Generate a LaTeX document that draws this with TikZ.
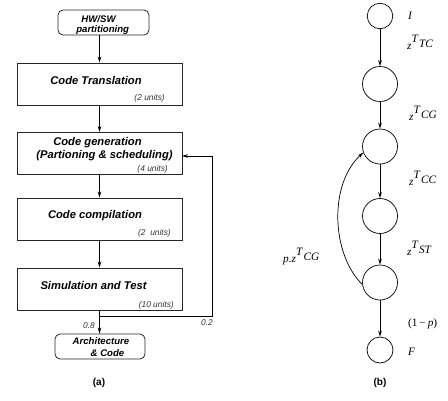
\documentclass[tikz,border=0pt]{standalone}
\usepackage{fontspec}
\setmainfont{Liberation Sans}
\newfontfamily\tms{Liberation Serif}
\usetikzlibrary{arrows.meta}
\newcommand\zexp[1]{\raisebox{6.3pt}{T}\hspace{1.2pt}\raisebox{1.7pt}{#1}}
\tikzset{
  box/.style={draw=black!85, line width=0.9pt, minimum width=165pt, minimum height=42pt, inner sep=0pt},
  rbox/.style={draw=black!85, rounded corners=5pt, line width=0.8pt, inner sep=0pt},
  txt/.style={inner sep=0pt, font=\fontsize{11.2}{13}\selectfont\bfseries\itshape},
  stxt/.style={inner sep=0pt, font=\fontsize{9.6}{11}\selectfont\bfseries\itshape},
  units/.style={inner sep=0pt, anchor=east, font=\fontsize{8.4}{9}\selectfont\itshape, text=black!80},
  prob/.style={inner sep=0pt, font=\fontsize{8.4}{9}\selectfont\itshape, text=black!80},
  arr/.style={-{Stealth[length=6pt,width=3.6pt]}, line width=0.7pt},
  st/.style={circle, draw, line width=0.7pt, inner sep=0pt},
  rlab/.style={inner sep=0pt, anchor=base west, font=\tms\itshape\fontsize{11.3}{12}\selectfont},
  captxt/.style={inner sep=0pt, font=\fontsize{10}{12}\selectfont\bfseries}
}
\begin{document}
\begin{tikzpicture}[x=1pt,y=-1pt]
\useasboundingbox (0,0) rectangle (448,400);
% ---- (a) ----
\node[rbox, minimum width=91pt, minimum height=25pt] (hw) at (103.5,22.5) {};
\node[stxt] (hw1) at (98.5,18.8) {HW/SW};
\node[stxt] (hw2) at (102.7,29.8) {partitioning};

\node[box] (ct) at (99.5,84) {};
\node[txt] (ctt) at (96,80) {Code Translation};
\node[units] (ctu) at (165,98) {(2 units)};

\node[box] (cg) at (99.5,153.5) {};
\node[txt] (cgt1) at (97.5,143) {Code generation};
\node[txt] (cgt2) at (104.5,156) {(Partioning \& scheduling)};
\node[units] (cgu) at (168,169) {(4 units)};

\node[box] (cc) at (99.5,219) {};
\node[txt] (cct) at (95,216) {Code compilation};
\node[units] (ccu) at (171,233) {(2\ \ units)};

\node[box] (sim) at (99.5,289) {};
\node[txt] (simt) at (93.5,285) {Simulation and Test};
\node[units] (simu) at (174,305) {(10 units)};

\node[rbox, minimum width=90pt, minimum height=25pt] (arch) at (100,346.5) {};
\node[stxt] (ar1) at (101,341.5) {Architecture};
\node[stxt] (ar2) at (107.5,353) {\& Code};

\draw[arr] (hw.south -| ct.north) -- (ct.north);
\draw[arr] (ct) -- (cg);
\draw[arr] (cg) -- (cc);
\draw[arr] (cc) -- (sim);
\draw[arr] (sim.south) -- (sim.south |- arch.north);
\coordinate (br) at (99.5,316);
\coordinate (fbc) at (212,156);
\coordinate (cgin) at (182,156);
\draw[arr] (br) -| (fbc) -- (cgin);
\node[prob] (p8) at (89,326) {0.8};
\node[prob] (p2) at (207,323) {0.2};
\node[captxt] (capa) at (99,383) {(a)};
% ---- (b) ----
\node[st, minimum size=25.5pt] (nI) at (380,16) {};
\node[st, minimum size=35pt] (n2) at (380,84) {};
\node[st, minimum size=35pt] (n3) at (380,146.5) {};
\node[st, minimum size=35pt] (n4) at (380,216) {};
\node[st, minimum size=35pt] (n5) at (380,282.5) {};
\node[st, minimum size=26pt] (nF) at (380,350) {};
\draw[arr] (nI) -- (n2);
\draw[arr] (n2) -- (n3);
\draw[arr] (n3) -- (n4);
\draw[arr] (n4) -- (n5);
\draw[arr] (n5) -- (nF);
\draw[arr] (n5.186) .. controls (332,255) and (328,185) .. (n3.200);
\node[rlab] (lI) at (408,19.5) {I};
\node[rlab] (l1) at (407,49) {z\zexp{TC}};
\node[rlab] (l2) at (409,120) {z\zexp{CG}};
\node[rlab] (l3) at (409,185) {z\zexp{CC}};
\node[rlab] (l4) at (407,255) {z\zexp{ST}};
\node[rlab] (l5) at (283,262) {p.z\zexp{CG}};
\node[rlab] (l6) at (408,326) {{\upshape(1\,\char"2212\,}p{\upshape)}};
\node[rlab] (lF) at (408,355) {F};
\node[captxt] (capb) at (380,383) {(b)};
\end{tikzpicture}
\end{document}
